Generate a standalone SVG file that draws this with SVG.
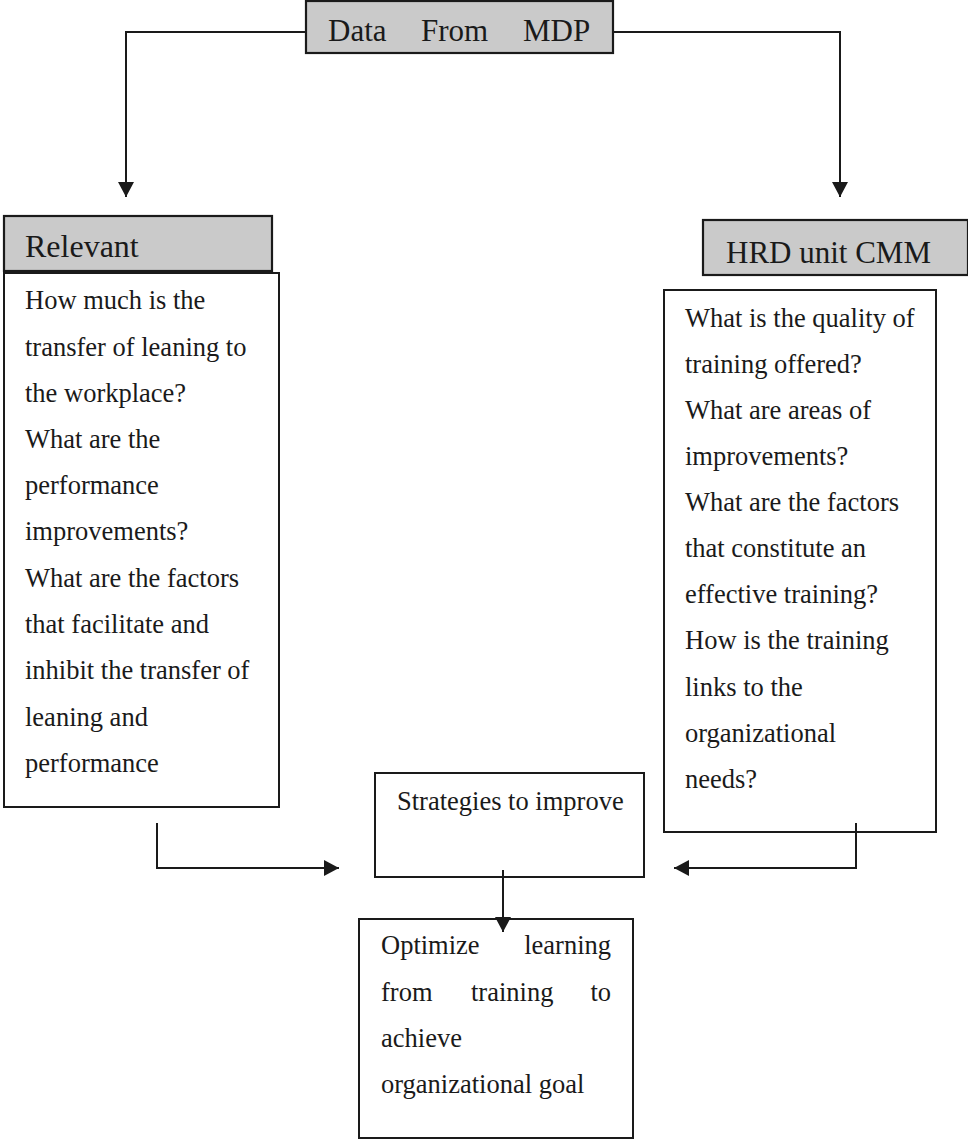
<svg xmlns="http://www.w3.org/2000/svg" width="968" height="1140" viewBox="0 0 968 1140">
<style>
.box{fill:#fff;stroke:#1a1a1a;stroke-width:2}
.hdr{fill:#cacaca;stroke:#1a1a1a;stroke-width:2.2}
.t{font-family:"Liberation Serif","Times New Roman",serif;font-size:26.5px;fill:#1a1a1a}
.h{font-family:"Liberation Serif","Times New Roman",serif;font-size:31px;fill:#1a1a1a}
.c{fill:none;stroke:#1a1a1a;stroke-width:2}
</style>
<defs>
<marker id="ah" markerUnits="userSpaceOnUse" markerWidth="16" markerHeight="18" refX="15" refY="8" orient="auto">
<path d="M0,0 L15,8 L0,16 Z" fill="#1a1a1a"/>
</marker>
</defs>
<rect width="968" height="1140" fill="#fff"/>
<g id="data-from-mdp">
<rect class="hdr" x="306" y="1" width="307" height="52"/>
<text class="h" x="328" y="41">Data</text>
<text class="h" x="421" y="41">From</text>
<text class="h" x="523" y="41">MDP</text>
</g>
<g id="relevant">
<rect class="hdr" x="4" y="216" width="268" height="55"/>
<text class="h" x="25" y="257" style="font-size:32px">Relevant</text>
<rect class="box" x="4" y="273" width="275" height="534"/>
<text class="t" x="25" y="309">How much is the</text>
<text class="t" x="25" y="356">transfer of leaning to</text>
<text class="t" x="25" y="402">the workplace?</text>
<text class="t" x="25" y="448">What are the</text>
<text class="t" x="25" y="494">performance</text>
<text class="t" x="25" y="540">improvements?</text>
<text class="t" x="25" y="587">What are the factors</text>
<text class="t" x="25" y="633">that facilitate and</text>
<text class="t" x="25" y="679">inhibit the transfer of</text>
<text class="t" x="25" y="726">leaning and</text>
<text class="t" x="25" y="772">performance</text>
</g>
<g id="hrd-unit-cmm">
<rect class="hdr" x="703" y="220" width="265" height="55"/>
<text class="h" x="726" y="263">HRD unit CMM</text>
<rect class="box" x="664" y="290" width="272" height="542"/>
<text class="t" x="685" y="327">What is the quality of</text>
<text class="t" x="685" y="373">training offered?</text>
<text class="t" x="685" y="419">What are areas of</text>
<text class="t" x="685" y="465">improvements?</text>
<text class="t" x="685" y="511">What are the factors</text>
<text class="t" x="685" y="557">that constitute an</text>
<text class="t" x="685" y="603">effective training?</text>
<text class="t" x="685" y="649">How is the training</text>
<text class="t" x="685" y="696">links to the</text>
<text class="t" x="685" y="742">organizational</text>
<text class="t" x="685" y="788">needs?</text>
</g>
<g id="strategies">
<rect class="box" x="375" y="773" width="269" height="104"/>
<text class="t" x="397" y="810">Strategies to improve</text>
</g>
<g id="optimize">
<rect class="box" x="359" y="919" width="274" height="219"/>
<text class="t" x="381" y="954">Optimize</text>
<text class="t" x="611" y="954" text-anchor="end">learning</text>
<text class="t" x="381" y="1001">from</text>
<text class="t" x="471" y="1001">training</text>
<text class="t" x="611" y="1001" text-anchor="end">to</text>
<text class="t" x="381" y="1047">achieve</text>
<text class="t" x="381" y="1093">organizational goal</text>
</g>
<g id="connectors">
<path class="c" d="M306,32 H126 V197" marker-end="url(#ah)"/>
<path class="c" d="M613,32 H840 V197" marker-end="url(#ah)"/>
<path class="c" d="M157,823 V868 H339" marker-end="url(#ah)"/>
<path class="c" d="M856,823 V868 H674" marker-end="url(#ah)"/>
<path class="c" d="M503,870 V932" marker-end="url(#ah)"/>
</g>
</svg>
